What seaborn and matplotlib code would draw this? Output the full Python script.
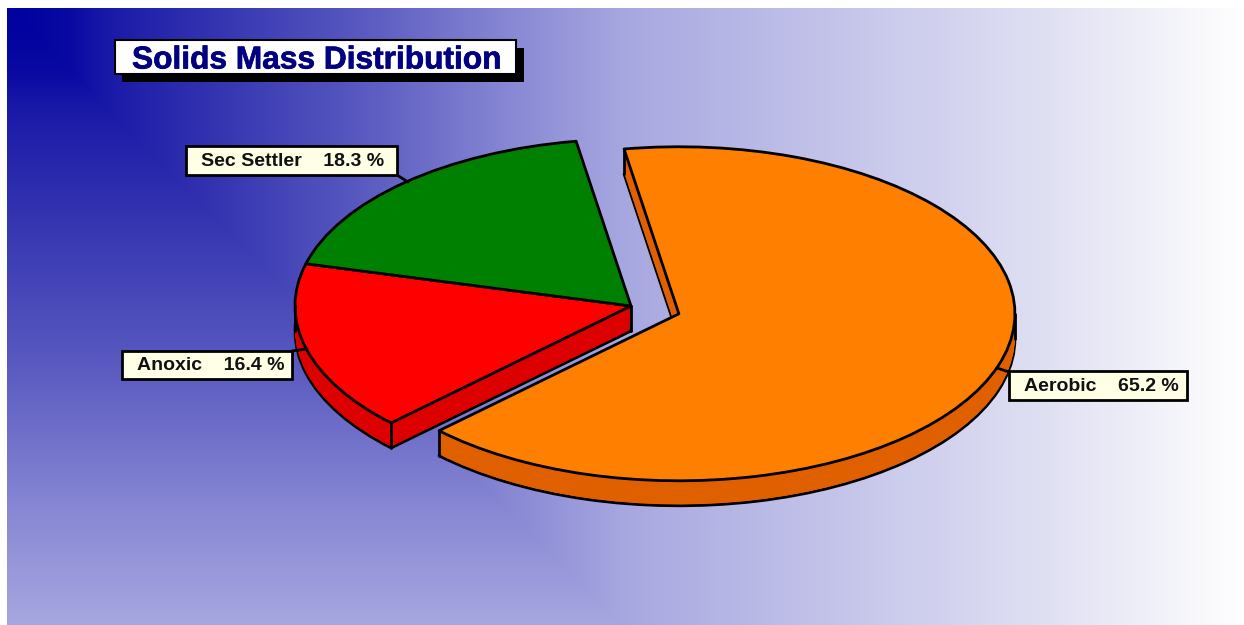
import numpy as np
import seaborn as sns
import matplotlib.pyplot as plt
import matplotlib.patheffects as pe
from matplotlib.patches import Rectangle

sections = ["Aerobic", "Anoxic", "Sec Settler"]
shares = [65.2, 16.4, 18.3]
explode = [0.15, 0, 0]
top_colors = ["#FF8000", "#FF0000", "#008000"]
side_colors = ["#E06000", "#DC0000", "#006000"]

# backdrop colour stops (distance in px, red/green level, blue level)
stop_px = [0, 60, 100, 200, 350, 500, 620, 800, 1040, 1237]
stop_rg = [0, 8, 25, 50, 88, 135, 168, 192, 224, 255]
stop_b = [160, 162, 168, 176, 192, 212, 225, 233, 243, 255]

WIDTH, HEIGHT = 1244, 625
LEFT, TOP = 7, 8
CENTER_X, CENTER_Y = 631, 306
RX, RY = 336, 167
DEPTH = 25 / RY
START_ANGLE = 99.4
EDGE_LW = 2.0

sns.set_theme(style="white")
plt.rcParams["font.family"] = ["Liberation Sans", "DejaVu Sans"]

fig = plt.figure(figsize=(WIDTH / 100, HEIGHT / 100), dpi=100, facecolor="white")

# backdrop
bg = fig.add_axes([0, 0, 1, 1])
xx, yy = np.meshgrid(np.arange(LEFT, WIDTH), np.arange(TOP, HEIGHT))
dist = np.maximum(xx - LEFT, yy - TOP)
rg = np.interp(dist, stop_px, stop_rg)
blue = np.interp(dist, stop_px, stop_b)
bg.imshow(np.dstack([rg, rg, blue]) / 255, extent=(LEFT, WIDTH, HEIGHT, TOP), aspect="auto",
          interpolation="bilinear")
bg.set_xlim(0, WIDTH)
bg.set_ylim(HEIGHT, 0)
bg.axis("off")

# pie, one unit of radius is RX wide and RY high
ax = fig.add_axes([0, 0, 1, 1], zorder=2)
ax.patch.set_alpha(0)
layers = np.concatenate([[DEPTH], np.linspace(DEPTH - 1.5 / RY, 1 / RY, 23)])
for i, drop in enumerate(layers):
    ax.pie(shares, explode=explode, colors=side_colors, startangle=START_ANGLE, counterclock=False,
           center=(0, -drop), wedgeprops={"edgecolor": "black" if i == 0 else "none", "linewidth": EDGE_LW,
                                          "joinstyle": "round"})
ax.pie(shares, explode=explode, colors=top_colors, startangle=START_ANGLE, counterclock=False,
       wedgeprops={"edgecolor": "black", "linewidth": EDGE_LW, "joinstyle": "round"})
ax.set_aspect("auto")
ax.set_xlim(-CENTER_X / RX, (WIDTH - CENTER_X) / RX)
ax.set_ylim(-(HEIGHT - CENTER_Y) / RY, CENTER_Y / RY)

# vertical edges of the pie's side wall
fractions = np.array(shares) / sum(shares)
bounds = START_ANGLE - 360 * np.concatenate([[0], np.cumsum(fractions)])
mids = np.radians((bounds[:-1] + bounds[1:]) / 2)
shift_x = np.array(explode) * np.cos(mids)
shift_y = np.array(explode) * np.sin(mids)


def side_edge(slice_no, angle):
    x = shift_x[slice_no] + np.cos(np.radians(angle))
    y = shift_y[slice_no] + np.sin(np.radians(angle))
    ax.plot([x, x], [y, y - DEPTH], color="black", lw=EDGE_LW, solid_capstyle="round")


side_edge(0, bounds[0])
side_edge(0, bounds[1])
side_edge(0, 0)
side_edge(1, bounds[1])
side_edge(1, 180)
ax.plot([0, 0], [0, -DEPTH], color="black", lw=EDGE_LW, solid_capstyle="round")

# title and labels, placed in pixels
over = fig.add_axes([0, 0, 1, 1], zorder=3)
over.patch.set_alpha(0)
over.set_xlim(0, WIDTH)
over.set_ylim(HEIGHT, 0)
over.axis("off")

over.add_patch(Rectangle((122, 48), 402, 34, facecolor="black", edgecolor="none"))
over.add_patch(Rectangle((114.5, 40), 401, 34, facecolor="white", edgecolor="black", lw=1.5))
over.text(132, 57, "Solids Mass Distribution", color="#000080", fontsize=22.8, fontweight="bold",
          ha="left", va="center_baseline", path_effects=[pe.withStroke(linewidth=0.5, foreground="#000080")])

label_boxes = [(1009, 371, 178, 29), (122, 351, 170, 28), (186, 146, 211, 29)]
leaders = [((1009, 372), (997, 368)), ((292, 351), (307, 349)), ((397, 175), (408, 182))]
for name, share, box, leader in zip(sections, shares, label_boxes, leaders):
    over.plot(*zip(*leader), color="black", lw=EDGE_LW)
    x0, y0, w, h = box
    over.add_patch(Rectangle((x0, y0), w, h, facecolor="#FFFFE6", edgecolor="black", lw=2.0, zorder=4))
    over.text(x0 + 15, y0 + h / 2 - 1, f"{name}    {share} %", color="#111111", fontsize=14.0,
              fontweight="bold", ha="left", va="center_baseline", zorder=5)

fig.savefig("out.png", dpi=100)
